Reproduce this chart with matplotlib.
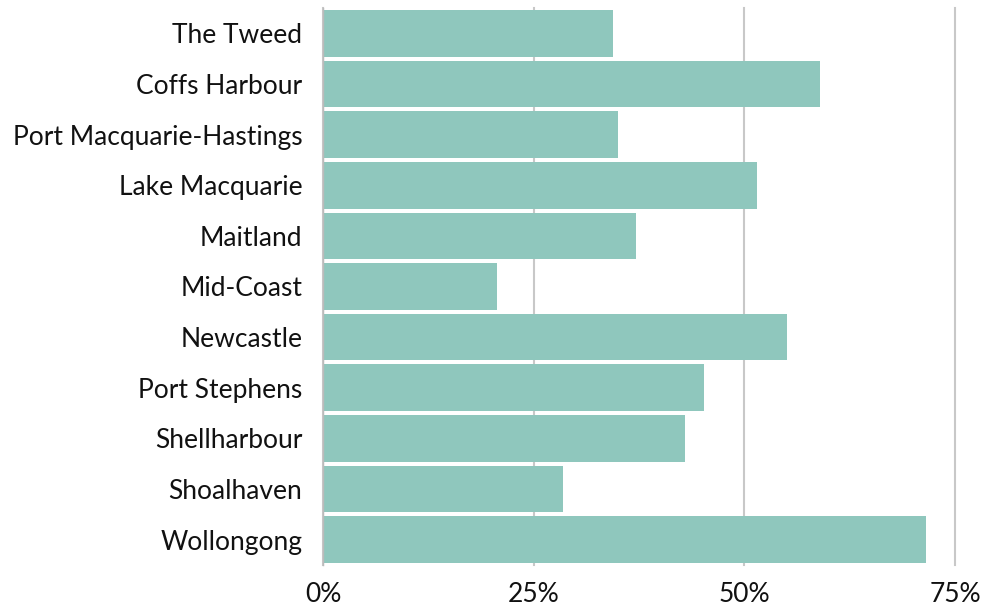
import matplotlib.pyplot as plt
from matplotlib.ticker import FuncFormatter

# regioes e percentuais
regioes = ['The Tweed', 'Coffs Harbour', 'Port Macquarie-Hastings', 'Lake Macquarie',
           'Maitland', 'Mid-Coast', 'Newcastle', 'Port Stephens', 'Shellharbour',
           'Shoalhaven', 'Wollongong']
percentuais = [34.4, 59.0, 35.0, 51.5, 37.2, 20.7, 55.1, 45.2, 43.0, 28.5, 71.6]
ticks_x = [0, 25, 50, 75]

plt.rcParams['font.family'] = ['Lato', 'DejaVu Sans']

fig = plt.figure(figsize=(9.83, 6.09), dpi=100)
ax = fig.add_axes([323/983, 1-565/609, (955-323)/983, (565-8)/609])

pos = list(range(len(regioes)))
ax.barh(pos, percentuais, height=0.92, color='#8FC7BD', zorder=2)

ax.set_ylim(len(regioes) - 0.5, -0.5)
ax.set_xlim(0, 75)
ax.set_yticks(pos)
ax.set_yticklabels(regioes, fontsize=19, color='#111111')
ax.set_xticks(ticks_x)
ax.xaxis.set_major_formatter(FuncFormatter(lambda v, p: f'{v:.0f}%'))
ax.tick_params(axis='x', labelsize=19, length=0, pad=12, labelcolor='#111111')
ax.tick_params(axis='y', length=0, pad=15)

ax.grid(axis='x', color='#C8C8C8', linewidth=1.5, zorder=0)
for g in ax.get_xgridlines():
    g.set_clip_on(False)
ax.set_axisbelow(True)
for lado in ['top', 'right', 'bottom']:
    ax.spines[lado].set_visible(False)
ax.spines['left'].set_color('#BBBBBB')
ax.spines['left'].set_linewidth(1)
ax.spines['left'].set_zorder(3)

fig.savefig('out.png', dpi=100)
